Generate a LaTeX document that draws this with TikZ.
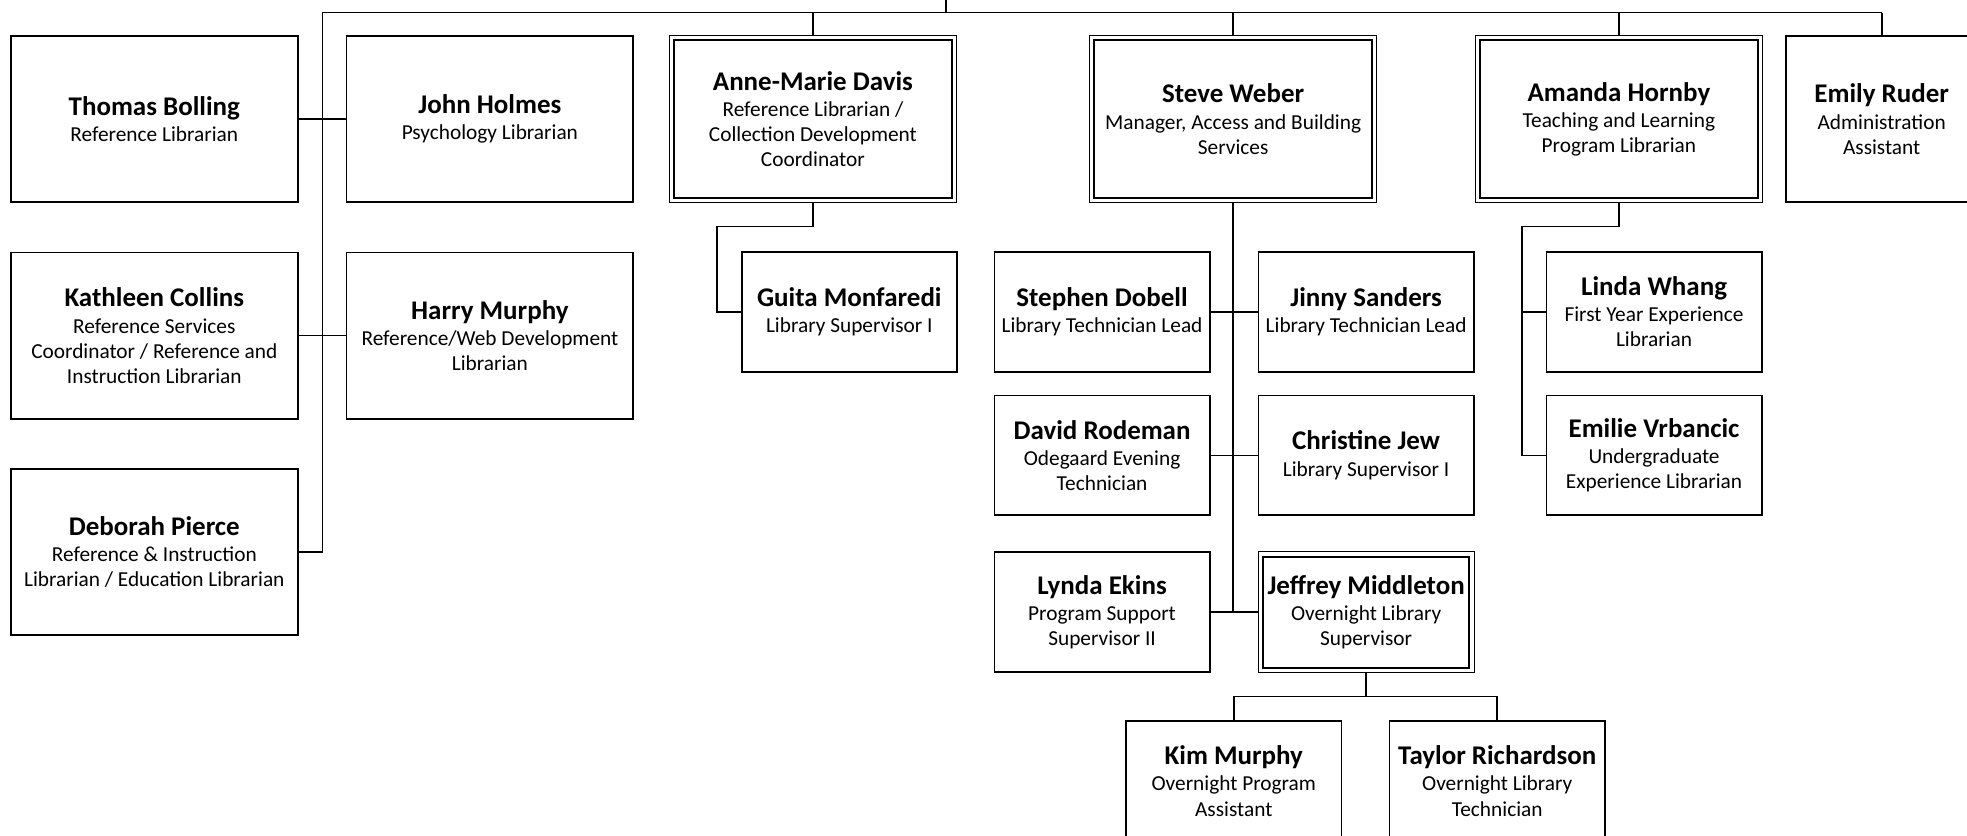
\documentclass[tikz,border=0pt]{standalone}
\usepackage{fontspec}
\setmainfont{Carlito}
\usepackage{tikz}
\usetikzlibrary{positioning, calc}

\newcommand{\who}[1]{{\fontsize{21.5}{23}\selectfont\bfseries #1}\\[1pt]}

\begin{document}
\begin{tikzpicture}[x=1pt, y=-1pt, on grid,
    person/.style={draw, line width=1.4pt, minimum width=228.6pt, minimum height=132.6pt,
        inner sep=1pt, align=center, font=\fontsize{17}{20}\selectfont},
    staff/.style={person, minimum width=171.6pt, minimum height=95.6pt},
    lead/.style={person, line width=1.5pt, outer sep=3.8pt,
        minimum width=221.6pt, minimum height=125.6pt,
        append after command={\pgfextra{\draw[line width=0.8pt]
            (\tikzlastnode.north west) rectangle (\tikzlastnode.south east);}}},
    smalllead/.style={lead, minimum width=164.6pt, minimum height=88.6pt},
    link/.style={line width=1.3pt}]
    \useasboundingbox (0,0) rectangle (1568,666);

    \node[person] (tb) at (123,95) {\who{Thomas Bolling}Reference Librarian};
    \node[person] (jh) [right=267.5pt of tb] {\who{John Holmes}Psychology Librarian};
    \node[lead] (ad) [right=257.5pt of jh] {\who{Anne-Marie Davis}Reference Librarian /\\Collection Development\\Coordinator};
    \node[lead] (sw) [right=335pt of ad] {\who{Steve Weber}Manager, Access and Building\\Services};
    \node[lead] (ah) [right=307.5pt of sw] {\who{Amanda Hornby}Teaching and Learning\\Program Librarian};
    \node[person, minimum width=152.6pt] (er) [right=209.5pt of ah] {\who{Emily Ruder}Administration\\Assistant};
    \node[person] (kc) [below=172.5pt of tb] {\who{Kathleen Collins}Reference Services\\Coordinator / Reference and\\Instruction Librarian};
    \node[person] (hm) [below=172.5pt of jh] {\who{Harry Murphy}Reference/Web Development\\Librarian};
    \node[person] (dp) [below=172.5pt of kc] {\who{Deborah Pierce}Reference \& Instruction\\Librarian / Education Librarian};

    \node[staff] (gm) [below right=153.5pt and 29pt of ad] {\who{Guita Monfaredi}Library Supervisor I};
    \node[staff] (sd) [below left=153.5pt and 104.5pt of sw] {\who{Stephen Dobell}Library Technician Lead};
    \node[staff] (js) [right=210.5pt of sd] {\who{Jinny Sanders}Library Technician Lead};
    \node[staff] (dr) [below=114.5pt of sd] {\who{David Rodeman}Odegaard Evening\\Technician};
    \node[staff] (cj) [below=114.5pt of js] {\who{Christine Jew}Library Supervisor I};
    \node[staff] (le) [below=125pt of dr] {\who{Lynda Ekins}Program Support\\Supervisor II};
    \node[smalllead] (jm) [below=125pt of cj] {\who{Jeffrey Middleton}Overnight Library\\Supervisor};
    \node[staff] (km) [below left=134.5pt and 105.5pt of jm] {\who{Kim Murphy}Overnight Program\\Assistant};
    \node[staff] (tr) [right=210pt of km] {\who{Taylor Richardson}Overnight Library\\Technician};
    \node[staff] (lw) [below right=153.5pt and 28pt of ah] {\who{Linda Whang}First Year Experience\\Librarian};
    \node[staff] (ev) [below=114.5pt of lw] {\who{Emilie Vrbancic}Undergraduate\\Experience Librarian};

    \coordinate (top) at (754,0);
    \coordinate (busL) at (257,10);
    \coordinate (busR) at (1500,10);

    \draw[link] (top) -- (top |- busL);
    \draw[link] (busL) -- (busR);
    \draw[link] (busL) |- (dp.east);
    \foreach \n in {ad, sw, ah, er}
        \draw[link] (\n.north) -- (\n.north |- busL);

    \path[link]
    (tb) edge (jh)
    (kc) edge (hm)
    (sd) edge (js)
    (dr) edge (cj)
    (le) edge (jm)
    ;

    \draw[link] (ad.south) -- ++(0,19) -| ([xshift=-19pt]gm.west) -- (gm.west);
    \draw[link] (sw.south) -- (sw.south |- le.east);
    \draw[link] (jm.south) -- ++(0,19) coordinate (jbus);
    \draw[link] (km.north) |- (jbus) -| (tr.north);
    \draw[link] (ah.south) -- ++(0,19) -| ([xshift=-19pt]ev.west) -- (ev.west);
    \draw[link] (lw.west) -- ++(-19,0);
\end{tikzpicture}
\end{document}
